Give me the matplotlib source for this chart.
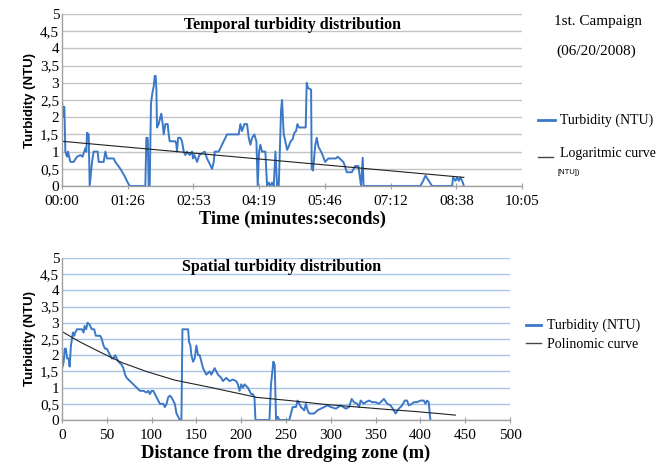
import matplotlib

matplotlib.use("Agg")
import matplotlib.pyplot as plt  # noqa: E402
from matplotlib.lines import Line2D  # noqa: E402
from matplotlib.ticker import FuncFormatter, MultipleLocator  # noqa: E402

# temporal series: time in seconds, turbidity in NTU
time_s = [0, 1.3, 2.2, 3.1, 4.4, 6.6, 7.9, 11, 15.3, 19.7, 24.1, 27, 30.7, 32, 32.9, 35.1, 36.4, 39.5, 41.6,
          46.9, 48.2, 54.8, 57, 59.2, 68, 70.1, 76.7, 82, 86.4, 89, 109.6, 110.9, 112.7, 114, 115.3, 117,
          118.8, 120.6, 121.9, 123.2, 124.1, 124.9, 127.1, 129.3, 130.6, 132.4, 133.7, 135.9, 139, 140.3,
          141.6, 149.1, 150.4, 151.2, 152.6, 155.6, 157.8, 160, 162.2, 164.4, 167.9, 171, 172.3, 174, 177.6,
          180.6, 187.6, 190.7, 192.9, 195.1, 197.3, 199.5, 200.8, 206, 208.2, 210.4, 212.6, 217, 232.4,
          234.5, 236.7, 239.8, 243.3, 245.5, 247.7, 249.9, 252.9, 255.6, 257.3, 259.1, 260.8, 263, 267.4,
          269.6, 271.8, 274, 276.2, 278.4, 280.6, 282.8, 285, 286.3, 288, 289.3, 291.5, 293.2, 296, 298,
          300.6, 303, 305.6, 307.8, 309.5, 311.8, 320.4, 321.7, 323.5, 327.5, 328.3, 330, 333, 335, 337,
          341.7, 346, 350.2, 360, 362.6, 369.9, 372, 374.4, 381, 385.3, 389.7, 393.2, 395.4, 396.5, 471.3,
          474.8, 477.9, 482.2, 486.6, 512.9, 514.2, 517.3, 519.5, 521.7, 523.9, 527, 528.3]
turb_time = [2.5, 2.0, 2.3, 2.3, 1.0, 0.85, 1.0, 0.7, 0.7, 0.85, 0.9, 0.85, 1.1, 1.0, 1.55, 1.5, 0.0, 0.7, 1.0,
             1.0, 0.7, 0.7, 1.0, 0.8, 0.8, 0.7, 0.5, 0.3, 0.1, 0.0, 0.0, 1.4, 1.4, 0.0, 0.0, 2.4,
             2.7, 2.9, 3.2, 3.2, 2.8, 1.7, 1.8, 2.0, 2.1, 1.8, 1.5, 1.8, 1.8, 1.5,
             1.3, 1.3, 1.2, 1.0, 1.4, 1.4, 1.3, 1.0, 0.9, 1.0, 0.9, 1.0, 0.8, 0.9, 0.7,
             0.9, 1.0, 0.8, 0.7, 0.6, 0.5, 0.7, 1.0, 1.0, 1.1, 1.2, 1.3, 1.5, 1.5,
             1.8, 1.6, 1.8, 1.8, 1.4, 1.2, 1.4, 1.5, 1.3, 0.0, 1.0, 1.2, 1.0, 1.0,
             0.0, 0.1, 0.0, 0.1, 0.0, 1.0, 0.0, 0.0, 1.0, 2.2, 2.5, 1.5, 1.35, 1.05, 1.15,
             1.3, 1.35, 1.55, 1.6, 1.8, 1.7, 1.7, 3.0, 2.85, 2.8, 0.5, 0.45, 1.2, 1.4, 1.15,
             0.95, 0.7, 0.8, 0.8, 0.85, 0.7, 0.58, 0.4, 0.4, 0.58, 0.58, 0.0, 0.82, 0.0, 0.0,
             0.15, 0.3, 0.15, 0.0, 0.0, 0.25, 0.15, 0.25, 0.15, 0.25, 0.1, 0.0]
log_curve_t = [0, 528.3]
log_curve_v = [1.3, 0.25]

# spatial series: distance in m, turbidity in NTU
dist_m = [0.7, 1.9, 3.0, 4.4, 5.6, 7.4, 8.5, 10, 11.1, 12.2, 13.7, 14.8, 16.7, 22.2, 24.1, 25.2, 27, 28.5, 30.7,
          33.3, 35.9, 37.8, 42.6, 44.4, 46.3, 48.1, 50, 51.9, 53.7, 55.6, 57.4, 59.3, 61.1, 63, 66.7, 68.5,
          70.4, 72.2, 75.9, 79.6, 83.3, 87, 90.7, 94.4, 96.3, 98.1, 100, 101.9, 103.7, 105.6, 107.4, 109.3,
          113, 114.8, 116.7, 118.5, 120.4, 122.2, 124.1, 125.9, 127.8, 129.6, 131.5, 133.3, 134.4, 140.7,
          141.9, 143.3, 144.4, 146.3, 148.1, 150, 151.9, 153.7, 155.6, 157.4, 159.3, 161.1, 164.8, 166.7,
          168.5, 170.4, 172.2, 174.1, 175.9, 177.8, 179.6, 183.3, 187, 190.7, 194.4, 196.3, 198.1, 200,
          201.9, 203.7, 207.4, 209.3, 211.1, 213, 214.8, 215.9, 231.5, 233.3, 235.9, 237.4, 238.9, 240.7,
          242.6, 253.7, 257.4, 261.1, 263, 264.8, 266.7, 270.4, 272.2, 274.1, 275.9, 281.5, 285.2, 288.9,
          292.6, 296.3, 300, 305.6, 311.1, 316.7, 320.4, 323.3, 325.9, 329.6, 331.5, 333.3, 337, 338.9,
          342.6, 346.3, 350, 353.7, 357.4, 359.3, 363, 366.7, 370.4, 372.2, 375.9, 379.6, 382.6, 385.2,
          387, 390.7, 392.6, 396.3, 400, 403.7, 405.6, 407.4, 409.3, 411.1]
turb_dist = [1.65, 1.8, 2.2, 2.2, 1.9, 1.9, 1.65, 2.3, 2.5, 2.7, 2.6, 2.7, 2.8, 2.8, 2.7, 2.9, 2.8, 3.0, 2.95,
             2.8, 2.8, 2.6, 2.6, 2.5, 2.3, 2.2, 2.2, 2.1, 2.0, 1.9, 1.9, 2.0, 1.9, 1.8, 1.7, 1.6,
             1.4, 1.3, 1.2, 1.1, 1.0, 0.9, 0.9, 0.85, 0.9, 0.8, 0.9, 0.9, 0.8, 0.7, 0.6, 0.5,
             0.5, 0.4, 0.5, 0.7, 0.75, 0.7, 0.6, 0.5, 0.2, 0.1, 0.0, 0.0, 2.8, 2.8,
             2.4, 2.3, 2.0, 1.8, 1.9, 2.3, 2.0, 2.0, 1.8, 1.6, 1.5, 1.4, 1.5, 1.4,
             1.5, 1.6, 1.5, 1.4, 1.35, 1.3, 1.2, 1.3, 1.2, 1.25, 1.2, 1.1, 0.9, 1.1,
             1.0, 1.1, 1.0, 0.9, 0.8, 0.8, 0.7, 0.0, 0.0, 1.1, 1.8, 1.7, 0.0, 0.1,
             0.0, 0.0, 0.4, 0.4, 0.6, 0.5, 0.4, 0.3, 0.5, 0.3, 0.2, 0.2, 0.3, 0.35,
             0.4, 0.45, 0.4, 0.35, 0.45, 0.35, 0.4, 0.65, 0.55, 0.5, 0.4, 0.6, 0.5, 0.55,
             0.6, 0.55, 0.55, 0.5, 0.6, 0.65, 0.5, 0.45, 0.3, 0.2, 0.35, 0.45, 0.6, 0.6,
             0.45, 0.5, 0.55, 0.55, 0.6, 0.6, 0.5, 0.6, 0.55, 0.0]
poly_curve_d = [0, 20, 40, 67, 95, 126, 165, 217, 254, 294, 330, 361, 395, 424, 439]
poly_curve_v = [2.73, 2.41, 2.13, 1.77, 1.49, 1.23, 1.01, 0.70, 0.60, 0.48, 0.40, 0.33, 0.26, 0.19, 0.15]

W, H = 659, 471
BLUE = "#3b78c6"
SERIF = "Liberation Serif"


def fx(px):
    return px / W


def fy(py):
    return 1 - py / H


def mmss(val, _pos):
    total = int(round(val))
    return f"{total // 60:02d}:{total % 60:02d}"


def comma(val, _pos):
    return f"{val:g}".replace(".", ",")


def style_axes(ax, grid_color):
    ax.set_ylim(0, 5)
    ax.yaxis.set_major_locator(MultipleLocator(0.5))
    ax.yaxis.set_major_formatter(FuncFormatter(comma))
    ax.grid(True, axis="y", color=grid_color, linewidth=1.0)
    ax.set_axisbelow(True)
    for side in ("top", "right"):
        ax.spines[side].set_visible(False)
    for side in ("left", "bottom"):
        ax.spines[side].set_color("#a0a0a0")
        ax.spines[side].set_linewidth(1.0)
    ax.tick_params(axis="y", length=0, pad=2, labelsize=11)
    ax.tick_params(axis="x", direction="inout", length=5, color="#a0a0a0", pad=4, labelsize=11)
    for lab in ax.get_xticklabels() + ax.get_yticklabels():
        lab.set_fontfamily(SERIF)
    ax.set_ylabel("Turbidity (NTU)", fontfamily="Liberation Sans", fontweight="bold", fontsize=9.5, labelpad=3)


fig = plt.figure(figsize=(W / 100, H / 100), dpi=100)

# temporal panel
ax1 = fig.add_axes([fx(62), fy(186), fx(522) - fx(62), fy(14) - fy(186)])
ax1.plot(time_s, turb_time, color=BLUE, linewidth=1.4)
ax1.plot(log_curve_t, log_curve_v, color="#222222", linewidth=0.8)
ax1.set_xlim(0, 604.8)
ax1.xaxis.set_major_locator(MultipleLocator(86.4))
ax1.xaxis.set_major_formatter(FuncFormatter(mmss))
style_axes(ax1, "#c4c4c4")
ax1.text(0.501, 0.936, "Temporal turbidity distribution", transform=ax1.transAxes, ha="center", va="center",
         fontfamily=SERIF, fontweight="bold", fontsize=11.5)
ax1.set_xlabel("Time (minutes:seconds)", fontfamily=SERIF, fontweight="bold", fontsize=13.2, labelpad=2)

# spatial panel
ax2 = fig.add_axes([fx(62), fy(420), fx(510) - fx(62), fy(258) - fy(420)])
ax2.plot(dist_m, turb_dist, color=BLUE, linewidth=1.4)
ax2.plot(poly_curve_d, poly_curve_v, color="#222222", linewidth=0.8)
ax2.set_xlim(0, 500)
ax2.xaxis.set_major_locator(MultipleLocator(50))
style_axes(ax2, "#a9c6e8")
ax2.text(0.491, 0.946, "Spatial turbidity distribution", transform=ax2.transAxes, ha="center", va="center",
         fontfamily=SERIF, fontweight="bold", fontsize=11.5)
ax2.set_xlabel("Distance from the dredging zone (m)", fontfamily=SERIF, fontweight="bold", fontsize=13.3,
               labelpad=2)

# campaign note
fig.text(fx(598), fy(22), "1st. Campaign", ha="center", va="center", fontfamily=SERIF, fontsize=11)
fig.text(fx(596), fy(51), "(06/20/2008)", ha="center", va="center", fontfamily=SERIF, fontsize=11)

# legends drawn by hand to keep the original placement
fig.add_artist(Line2D([fx(538), fx(555)], [fy(120), fy(120)], color=BLUE, linewidth=2))
fig.text(fx(560), fy(120), "Turbidity (NTU)", ha="left", va="center", fontfamily=SERIF, fontsize=10)
fig.add_artist(Line2D([fx(538), fx(553)], [fy(157), fy(157)], color="#444444", linewidth=1))
fig.text(fx(560), fy(154), "Logaritmic curve", ha="left", va="center", fontfamily=SERIF, fontsize=10)
fig.text(fx(558), fy(173), "[NTU])", ha="left", va="center", fontfamily="Liberation Sans", fontsize=5.5)

fig.add_artist(Line2D([fx(526), fx(541)], [fy(325), fy(325)], color=BLUE, linewidth=2))
fig.text(fx(547), fy(325), "Turbidity (NTU)", ha="left", va="center", fontfamily=SERIF, fontsize=10)
fig.add_artist(Line2D([fx(526), fx(541)], [fy(343), fy(343)], color="#444444", linewidth=1))
fig.text(fx(547), fy(345), "Polinomic curve", ha="left", va="center", fontfamily=SERIF, fontsize=10)

fig.savefig("out.png", dpi=100)
